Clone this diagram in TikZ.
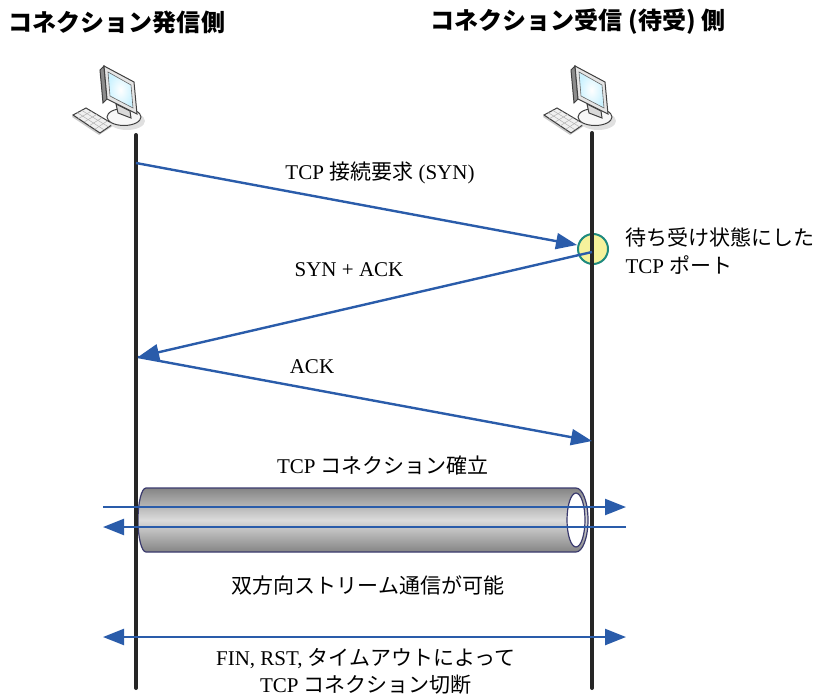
\documentclass[tikz,border=0pt]{standalone}
\usepackage{fontspec}
\setmainfont{Liberation Serif}
\newfontfamily\jp{Noto Sans CJK JP}
\usetikzlibrary{arrows.meta, calc}
\definecolor{msgblue}{HTML}{2A5CAA}
\definecolor{portfill}{HTML}{F6F29C}
\definecolor{portline}{HTML}{1E8A7E}
\definecolor{tubeline}{HTML}{3A3A6E}
\tikzset{
every node/.style = {font = \fontsize{21}{28}\selectfont},
title/.style = {font = \fontsize{24}{28}\selectfont\jp\bfseries},
lifeline/.style = {line width = 4pt, line cap = round, black!85},
message/.style = {-{Triangle[length = 21pt, width = 16pt]}, line width = 2.4pt, msgblue},
twoway/.style = {{Triangle[length = 21pt, width = 16pt]}-{Triangle[length = 21pt, width = 16pt]},
   line width = 2.4pt, msgblue},
port/.style = {circle, draw = portline, fill = portfill, line width = 2pt,
   minimum size = 30pt, inner sep = 0pt},
pc/.pic = {
   % keyboard
   \fill [black!20] (72,117) -- (99,135) -- (113,126) -- (113,124) -- (100,133) -- (73,115) -- cycle;
   \draw [black!75, fill = black!6, line width = 1pt]
      (73,115) -- (86,108) -- (113,124) -- (100,133) -- cycle;
   \foreach \k in {1,...,4}
      \draw [black!30, line width = .5pt] ($(73,115)!\k/5!(100,133)$) -- ($(86,108)!\k/5!(113,124)$);
   \foreach \k in {1,2}
      \draw [black!30, line width = .5pt] ($(73,115)!\k/3!(86,108)$) -- ($(100,133)!\k/3!(113,124)$);
   % stand
   \fill [black!12] (127,121) ellipse [x radius = 18, y radius = 9];
   \draw [black!75, fill = black!3, line width = 1pt] (124,117) ellipse [x radius = 17, y radius = 8.5];
   \draw [black!75, fill = black!15, line width = 1pt] (116,104) -- (130,111) -- (131,118) -- (118,113) -- cycle;
   % monitor
   \draw [black!75, fill = black!45, line width = 1pt]
      (100,70) -- (104,66) -- (107,99) -- (103,103) -- cycle;
   \draw [black!75, fill = black!10, line width = 1pt]
      (104,66) -- (134,82) -- (137,114) -- (107,99) -- cycle;
   \draw [black!60, inner color = white, outer color = blue!25!cyan!20, line width = .6pt]
      (108,72) -- (131,85) -- (133,108) -- (110,96) -- cycle;
}
}
\begin{document}
\begin{tikzpicture}[x = 1pt, y = -1pt]
\useasboundingbox (0,0) rectangle (821,698);

%% Hosts
\node [title] (srctitle) at (117,22) {コネクション発信側};
\node [title] (dsttitle) at (578,22) {コネクション受信 (待受) 側};
\pic at (0,0) {pc};
\pic at (471,0) {pc};

%% Established connection tube
\def\tube{(576,488) -- (146,488) arc [start angle = 270, end angle = 90, x radius = 8, y radius = 32]
   -- (576,552) arc [start angle = 90, end angle = -90, x radius = 12, y radius = 32]}
\shade [top color = black!48, bottom color = black!48, middle color = black!14] \tube;
\draw [tubeline, line width = 1.2pt] \tube -- cycle;
\draw [tubeline, fill = white, line width = 1.2pt] (576,520) ellipse [x radius = 9, y radius = 27];

%% Lifelines
\coordinate (srctop) at (136,135);
\coordinate (srcbot) at (136,688);
\coordinate (dsttop) at (592,133);
\coordinate (dstbot) at (592,688);
\node [port] (port) at (593,249) {};
\draw [lifeline] (srctop) -- (srcbot);
\draw [lifeline] (dsttop) -- (dstbot);

%% Handshake
\coordinate (syn) at (136,163);
\coordinate (synack) at (592,252);
\coordinate (ack) at (138,357);
\coordinate (ackend) at (592,441);
\draw [message] (syn) -- (port.west |- 0,245);
\draw [message] (synack) -- (ack);
\draw [message] (ack) -- (ackend);
\node (synlab) at (380,173) {TCP {\jp 接続要求} (SYN)};
\node (synacklab) at (349,270) {SYN + ACK};
\node (acklab) at (312,367) {ACK};
\node [align = left, anchor = west] (portlab) at (622,251)
   {{\jp 待ち受け状態にした}\\TCP {\jp ポート}};

%% Data transfer
\coordinate (inL) at (103,507);
\coordinate (inR) at (626,507);
\coordinate (outL) at (103,527);
\coordinate (outR) at (626,527);
\draw [message] (inL) -- (inR);
\draw [message] (outR) -- (outL);
\node (estlab) at (383,466) {TCP {\jp コネクション確立}};
\node (streamlab) at (368,585) {\jp 双方向ストリーム通信が可能};

%% Teardown
\coordinate (finL) at (103,637);
\coordinate (finR) at (626,637);
\draw [twoway] (finL) -- (finR);
\node [align = center, font = \fontsize{21}{27}\selectfont] (finlab) at (366,671)
   {FIN, RST, {\jp タイムアウトによって}\\TCP {\jp コネクション切断}};

\end{tikzpicture}
\end{document}
